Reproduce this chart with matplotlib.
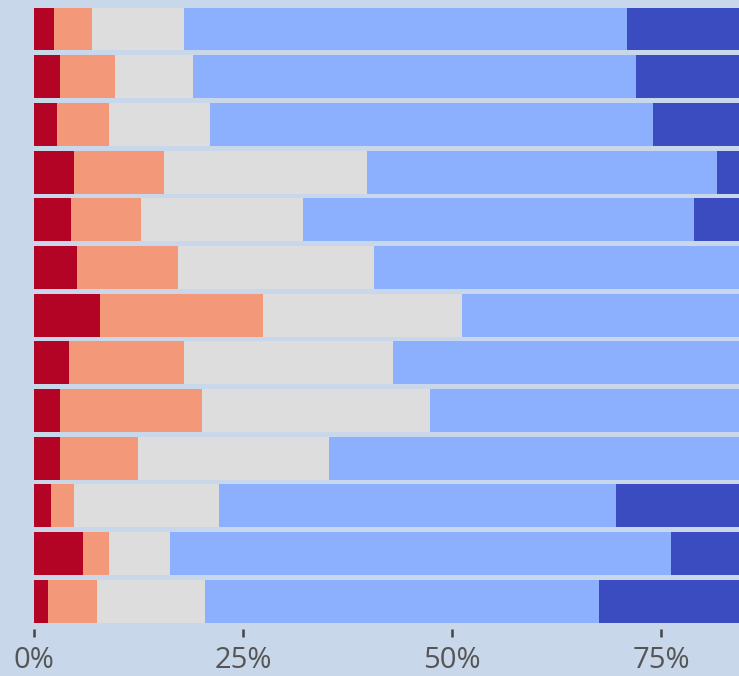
#!/usr/bin/env python3
"""Stacked horizontal bars, shares per row (cropped view 0-84%)."""

import matplotlib
matplotlib.use('Agg')
import matplotlib.pyplot as plt
from matplotlib.ticker import PercentFormatter

# share of each answer per row, top row first (percent)
very_neg = [2.4, 3.1, 2.7, 4.8, 4.4, 5.1, 7.9, 4.2, 3.1, 3.1, 2.0, 5.9, 1.7]
neg = [4.5, 6.6, 6.3, 10.8, 8.4, 12.1, 19.5, 13.7, 17.0, 9.3, 2.8, 3.1, 5.8]
neutral = [11.0, 9.3, 12.1, 24.2, 19.4, 23.4, 23.8, 25.0, 27.3, 22.9, 17.3, 7.3, 13.0]
pos = [53.0, 53.0, 52.9, 41.9, 46.7, 47.4, 40.8, 47.1, 43.6, 53.7, 47.5, 59.9, 47.0]
very_pos = [29.1, 28.0, 26.0, 18.3, 21.1, 12.0, 8.0, 10.0, 9.0, 11.0, 30.4, 23.8, 32.5]

series = [very_neg, neg, neutral, pos, very_pos]
colors = ['#b40426', '#f4987a', '#dddddd', '#8db0fe', '#3b4cc0']
bg = '#c8d7e9'

fig = plt.figure(figsize=(7.39, 6.76), dpi=100, facecolor=bg)
ax = fig.add_axes([0, 47 / 676, 1, 629 / 676])
ax.set_facecolor(bg)

rows = list(range(len(very_neg)))
left = [0.0] * len(rows)
for vals, col in zip(series, colors):
    ax.barh(rows, vals, left=left, height=0.9, color=col, linewidth=0)
    left = [l + v for l, v in zip(left, vals)]

ax.set_xlim(-4.07, 84.3)
ax.set_ylim(12.58, -0.608)
ax.set_xticks([0, 25, 50, 75])
ax.xaxis.set_major_formatter(PercentFormatter(decimals=0))
ax.set_yticks([])
for s in ax.spines.values():
    s.set_visible(False)
ax.tick_params(axis='x', length=6, width=1.8, color='#444444', pad=6,
               labelsize=21, labelcolor='#555555')
for lab in ax.get_xticklabels():
    lab.set_family('Open Sans')

fig.savefig('out.png', dpi=100, facecolor=bg)
